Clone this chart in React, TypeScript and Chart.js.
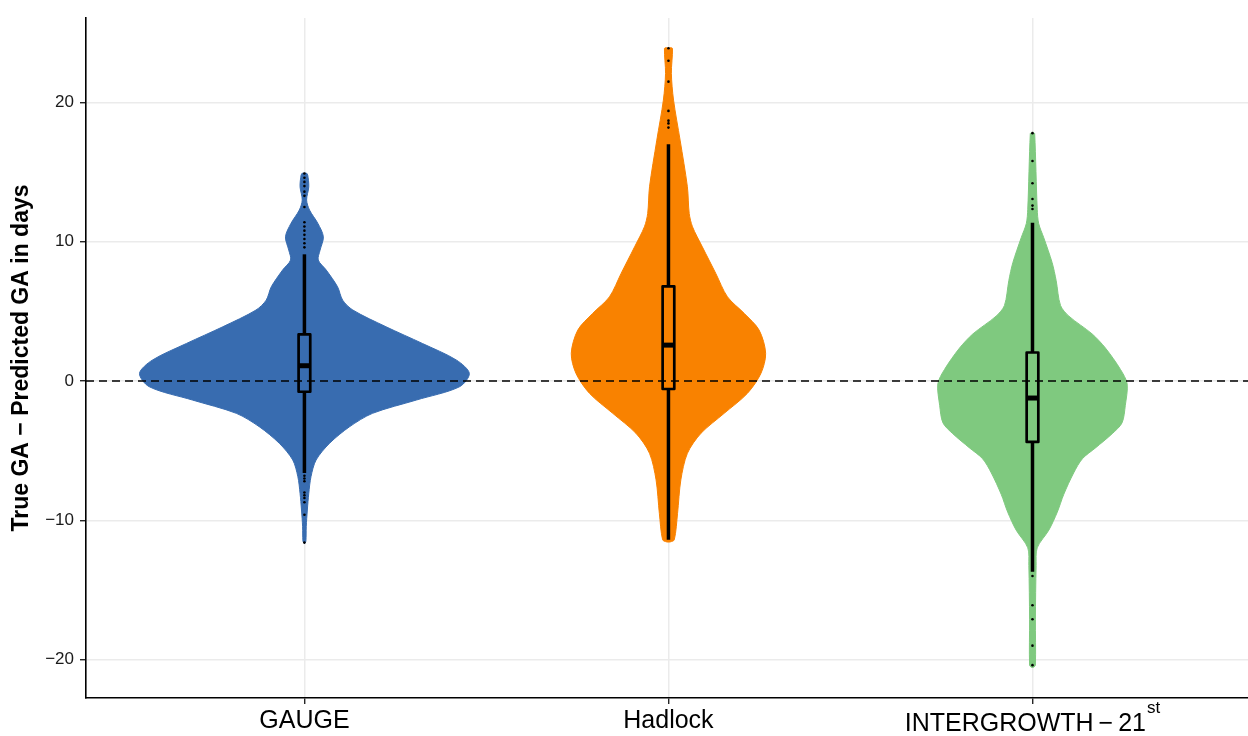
import React, { useEffect, useRef } from "react";
import { Chart, registerables } from "chart.js";

Chart.register(...registerables);

// ---------- data ----------
const categories = ["GAUGE", "Hadlock", "INTERGROWTH\u2009\u2212\u200921"];
const categorySuperscripts = ["", "", "st"];
const violinColors = ["#386CB0", "#F98200", "#7FC97F"];
const yTickValues = [-20, -10, 0, 10, 20];
const xTickValues = [1, 2, 3];

// violin outlines: y value and half-width (in category units)
const gaugeY = [14.95, 14.8, 13.95, 13.0, 12.28, 11.32, 10.36, 9.4, 8.69, 7.97, 6.77, 5.81, 5.1, 3.9, 2.7, 1.5, 0.55, -0.41, -1.36, -2.32, -3.28, -4.47, -5.67, -6.87, -8.06, -9.26, -10.46, -11.5, -11.65];
const gaugeW = [0.005, 0.009, 0.012, 0.006, 0.014, 0.037, 0.052, 0.043, 0.038, 0.06, 0.091, 0.105, 0.133, 0.224, 0.324, 0.418, 0.453, 0.426, 0.308, 0.187, 0.124, 0.069, 0.032, 0.018, 0.012, 0.008, 0.005, 0.004, 0.001];

const hadlockY = [23.95, 23.88, 22.09, 20.17, 17.3, 13.95, 12.04, 11.08, 9.64, 7.73, 6.05, 4.86, 3.66, 1.99, 0.55, -0.88, -2.32, -3.76, -5.19, -7.1, -9.5, -11.4, -11.55];
const hadlockW = [0.005, 0.011, 0.008, 0.014, 0.032, 0.052, 0.057, 0.066, 0.093, 0.13, 0.162, 0.208, 0.249, 0.267, 0.254, 0.217, 0.153, 0.089, 0.052, 0.034, 0.025, 0.016, 0.005];

const intergrowthY = [17.85, 17.77, 12.34, 11.31, 10.29, 8.5, 7.22, 5.43, 4.66, 3.38, 2.35, 0.82, -0.2, -1.74, -3.0, -3.78, -4.8, -5.58, -6.6, -8.13, -9.42, -10.7, -11.97, -13.25, -17.1, -20.4, -20.55];
const intergrowthW = [0.003, 0.006, 0.013, 0.017, 0.031, 0.054, 0.065, 0.077, 0.1, 0.164, 0.201, 0.242, 0.26, 0.255, 0.246, 0.219, 0.173, 0.137, 0.113, 0.086, 0.068, 0.045, 0.013, 0.01, 0.008, 0.008, 0.003];

// box plot statistics per category
const lowerWhiskers = [-6.6, -11.4, -13.7];
const q1Values = [-0.77, -0.57, -4.37];
const medianValues = [1.1, 2.58, -1.22];
const q3Values = [3.35, 6.8, 2.05];
const upperWhiskers = [9.1, 17.0, 11.36];

// outliers
const gaugeOutliers = [9.6, 9.9, 10.2, 10.5, 10.8, 11.1, 11.4, 12.5, 13.3, 13.6, 14.0, 14.3, 14.6, 14.9, -6.8, -7.0, -7.2, -8.0, -8.2, -8.4, -8.7, -9.6, -11.6];
const hadlockOutliers = [18.2, 18.5, 18.7, 19.4, 21.5, 23.0, 23.9];
const intergrowthOutliers = [12.35, 12.6, 13.07, 14.2, 15.8, 17.8, -14.0, -16.1, -17.1, -19.0, -20.4];

const yAxisTitle = "True GA \u2212 Predicted GA in days";

// ---------- helpers ----------
const violinYs = [gaugeY, hadlockY, intergrowthY];
const violinWs = [gaugeW, hadlockW, intergrowthW];
const outlierSets = [gaugeOutliers, hadlockOutliers, intergrowthOutliers];
const BOX_HALF = 0.016;
const X_MIN = 0.4;
const X_MAX = 3.592;

function violinPoints(center: number, ys: number[], ws: number[]) {
  const right = ys.map((y, i) => ({ x: center + ws[i], y }));
  const left = ys.map((y, i) => ({ x: center - ws[i], y })).reverse();
  return [...right, ...left];
}

const FONT = "'Liberation Sans', Arial, Helvetica, sans-serif";

const xLabelPlugin = {
  id: "xLabels",
  afterDraw(chart: any) {
    const { ctx, chartArea } = chart;
    const xs = chart.scales.x;
    ctx.save();
    ctx.fillStyle = "#000";
    ctx.textBaseline = "alphabetic";
    ctx.textAlign = "left";
    const mainFont = `25px ${FONT}`;
    const supFont = `17px ${FONT}`;
    categories.forEach((label, i) => {
      const px = xs.getPixelForValue(xTickValues[i]);
      const sup = categorySuperscripts[i];
      ctx.font = mainFont;
      const w1 = ctx.measureText(label).width;
      let w2 = 0;
      if (sup) {
        ctx.font = supFont;
        w2 = ctx.measureText(sup).width + 1;
      }
      const start = px - (w1 + w2) / 2;
      const base = chartArea.bottom + 30 + (sup ? 3 : 0);
      ctx.font = mainFont;
      ctx.fillText(label, start, base);
      if (sup) {
        ctx.font = supFont;
        ctx.fillText(sup, start + w1 + 1, base - 18);
      }
    });
    ctx.restore();
  },
};

export default function App() {
  const ref = useRef<HTMLCanvasElement | null>(null);

  useEffect(() => {
    document.body.style.margin = "0";
    const canvas = ref.current;
    if (!canvas) return;

    const datasets: any[] = [];

    // violins
    xTickValues.forEach((c, i) => {
      datasets.push({
        type: "line",
        data: violinPoints(c, violinYs[i], violinWs[i]),
        backgroundColor: violinColors[i],
        borderColor: violinColors[i],
        borderWidth: 1,
        pointRadius: 0,
        fill: "shape",
        tension: 0.3,
        order: 10,
      });
    });

    // dashed zero line
    datasets.push({
      type: "line",
      data: [
        { x: X_MIN, y: 0 },
        { x: X_MAX, y: 0 },
      ],
      borderColor: "#000",
      borderWidth: 1.4,
      borderDash: [8, 5],
      pointRadius: 0,
      fill: false,
      order: 5,
    });

    // box plots
    xTickValues.forEach((c, i) => {
      datasets.push({
        type: "line",
        data: [
          { x: c, y: q3Values[i] },
          { x: c, y: upperWhiskers[i] },
        ],
        borderColor: "#000",
        borderWidth: 3.5,
        pointRadius: 0,
        fill: false,
        order: 1,
      });
      datasets.push({
        type: "line",
        data: [
          { x: c, y: q1Values[i] },
          { x: c, y: lowerWhiskers[i] },
        ],
        borderColor: "#000",
        borderWidth: 3.5,
        pointRadius: 0,
        fill: false,
        order: 1,
      });
      datasets.push({
        type: "line",
        data: [
          { x: c - BOX_HALF, y: q1Values[i] },
          { x: c + BOX_HALF, y: q1Values[i] },
          { x: c + BOX_HALF, y: q3Values[i] },
          { x: c - BOX_HALF, y: q3Values[i] },
          { x: c - BOX_HALF, y: q1Values[i] },
        ],
        borderColor: "#000",
        borderWidth: 2.7,
        borderJoinStyle: "round",
        borderCapStyle: "round",
        pointRadius: 0,
        fill: false,
        tension: 0,
        order: 0,
      });
      datasets.push({
        type: "line",
        data: [
          { x: c - BOX_HALF, y: medianValues[i] },
          { x: c + BOX_HALF, y: medianValues[i] },
        ],
        borderColor: "#000",
        borderWidth: 5,
        pointRadius: 0,
        fill: false,
        order: 0,
      });
      datasets.push({
        type: "scatter",
        data: outlierSets[i].map((y) => ({ x: c, y })),
        backgroundColor: "#000",
        borderWidth: 0,
        pointRadius: 1.3,
        showLine: false,
        order: 0,
      });
    });

    const chart = new Chart(canvas, {
      type: "line",
      data: { datasets },
      plugins: [xLabelPlugin],
      options: {
        animation: false,
        responsive: false,
        devicePixelRatio: 1,
        layout: { autoPadding: false, padding: { top: 18, right: 0, left: 0, bottom: 0 } },
        plugins: {
          legend: { display: false },
          tooltip: { enabled: false },
        },
        scales: {
          x: {
            type: "linear",
            min: X_MIN,
            max: X_MAX,
            afterBuildTicks: (scale: any) => {
              scale.ticks = xTickValues.map((v) => ({ value: v }));
            },
            afterFit: (scale: any) => {
              scale.height = 38;
            },
            ticks: { display: false },
            grid: {
              color: "#EBEBEB",
              lineWidth: 1.5,
              drawTicks: true,
              tickLength: 6,
              tickColor: "#000",
              tickWidth: 1.2,
            },
            border: { display: true, color: "#000", width: 1.6 },
          },
          y: {
            type: "linear",
            min: -22.76,
            max: 26.07,
            afterBuildTicks: (scale: any) => {
              scale.ticks = yTickValues.map((v) => ({ value: v }));
            },
            afterFit: (scale: any) => {
              scale.width = 86;
            },
            ticks: {
              color: "#1a1a1a",
              font: { family: FONT, size: 17 },
              padding: 6,
              callback: (v: any) => (v < 0 ? "\u2212" + Math.abs(v) : String(v)),
            },
            grid: {
              color: "#EBEBEB",
              lineWidth: 1.5,
              drawTicks: true,
              tickLength: 6,
              tickColor: "#000",
              tickWidth: 1.2,
            },
            border: { display: true, color: "#000", width: 1.6 },
            title: {
              display: true,
              text: yAxisTitle,
              color: "#000",
              font: { family: FONT, size: 23, weight: "bold" },
              padding: { top: 8, bottom: 0 },
            },
          },
        },
      } as any,
    });

    return () => chart.destroy();
  }, []);

  return (
    <div style={{ width: 1248, height: 736 }}>
      <canvas ref={ref} width={1248} height={736} style={{ display: "block" }} />
    </div>
  );
}
